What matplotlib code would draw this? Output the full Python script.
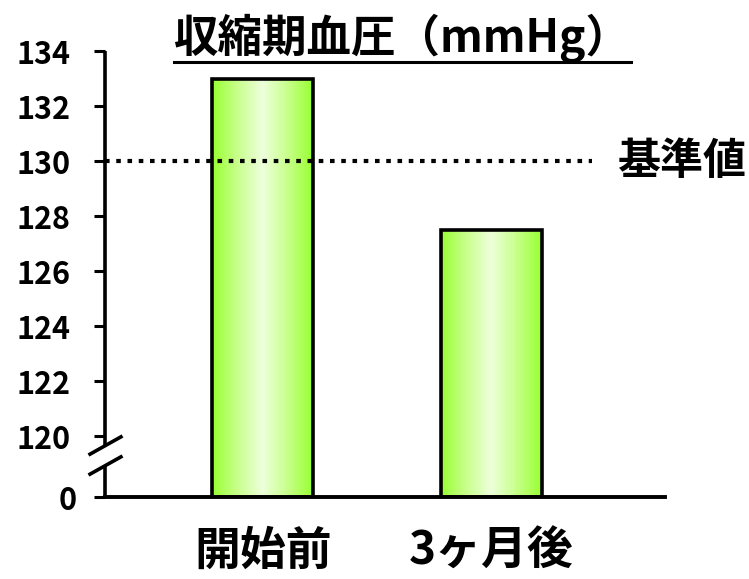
import numpy as np
import matplotlib
matplotlib.use("Agg")
import matplotlib.pyplot as plt
from matplotlib.colors import LinearSegmentedColormap

plt.rcParams['font.family'] = ['Noto Sans CJK JP', 'DejaVu Sans']

# data
categories = ["開始前", "3ヶ月後"]
values = [133.0, 127.5]
reference_value = 130
reference_label = "基準値"
title = "収縮期血圧（mmHg）"
yticks = [0, 120, 122, 124, 126, 128, 130, 132, 134]

# broken y-axis: 0..120 squeezed into a short band below 120
BREAK = 120.0
GAP = 2.2


def fwd(y):
    y = np.asarray(y, dtype=float)
    return np.where(y >= BREAK, y - BREAK + GAP, y / BREAK * GAP)


def inv(d):
    d = np.asarray(d, dtype=float)
    return np.where(d >= GAP, d - GAP + BREAK, d / GAP * BREAK)


fig = plt.figure(figsize=(7.49, 5.79), dpi=100)
ax = fig.add_axes([0.1402, 0.1416, 0.888 - 0.1402, 0.9119 - 0.1416])
ax.set_yscale('function', functions=(fwd, inv))
ax.set_ylim(0, 134)
ax.set_xlim(-0.69, 1.76)

# bars with a horizontal light-centre gradient
cmap = LinearSegmentedColormap.from_list(
    "bar", ["#99ff33", "#c8ff8c", "#eeffdc", "#c8ff8c", "#99ff33"])
bar_w = 0.44
n_slices = 80
x = np.arange(len(categories))
for xi, v in zip(x, values):
    edges = np.linspace(xi - bar_w / 2, xi + bar_w / 2, n_slices + 1)
    centres = (edges[:-1] + edges[1:]) / 2
    cols = cmap(np.linspace(0, 1, n_slices))
    ax.bar(centres, [v] * n_slices, width=edges[1] - edges[0] + 0.002,
           color=cols, linewidth=0, antialiased=False, zorder=2)
ax.bar(x, values, width=bar_w, facecolor='none', edgecolor='black',
       linewidth=2.6, zorder=3)

# reference line
ax.axhline(reference_value, xmin=0, xmax=0.87, color='black', lw=3.0,
           linestyle=(0, (1.1, 1.6)), dash_capstyle='butt', zorder=4)
ax.text(1.55, reference_value, reference_label, ha='left', va='center',
        fontsize=31, fontweight='bold', clip_on=False)

# axes styling
for s in ['top', 'right', 'left']:
    ax.spines[s].set_visible(False)
ax.spines['bottom'].set_linewidth(2.8)
ax.spines['bottom'].set_zorder(5)

ytrans = ax.get_yaxis_transform()
lo, hi = 63.3, 102.8
ax.plot([0, 0], [0, lo], color='black', lw=2.6, transform=ytrans,
        clip_on=False, solid_capstyle='butt', zorder=5)
ax.plot([0, 0], [hi, 134], color='black', lw=2.6, transform=ytrans,
        clip_on=False, solid_capstyle='butt', zorder=5)
slash = [(-1, -0.56), (1, 0.56)]
ax.plot([0, 0], [lo, hi], linestyle='none', marker=slash, markersize=24.5,
        markeredgewidth=2.6, color='black', transform=ytrans,
        clip_on=False, zorder=6)

ax.set_yticks(yticks)
ax.set_yticklabels([str(t) for t in yticks])
ax.yaxis.set_minor_locator(matplotlib.ticker.NullLocator())
ax.tick_params(axis='y', length=8, width=2.2, pad=17, labelsize=22,
               direction='out')
for lbl in ax.get_yticklabels():
    lbl.set_fontweight('bold')
zero_tick = ax.yaxis.get_major_ticks()[0]
zero_tick.tick1line.set_markersize(12)
zero_tick.set_pad(12)

ax.set_xticks(x)
ax.set_xticklabels(categories, fontsize=33, fontweight='bold')
ax.tick_params(axis='x', length=0, pad=23)

# underlined title
t = fig.text(0.537, 1 - 52 / 579, title, ha='center', va='baseline',
             fontsize=32, fontweight='bold')
fig.canvas.draw()
bb = t.get_window_extent(fig.canvas.get_renderer())
uy = 1 - 62 / 579
fig.add_artist(plt.Line2D([bb.x0 / fig.bbox.width, bb.x1 / fig.bbox.width],
                          [uy, uy], transform=fig.transFigure,
                          color='black', lw=2.2))

fig.savefig("out.png", dpi=100)
